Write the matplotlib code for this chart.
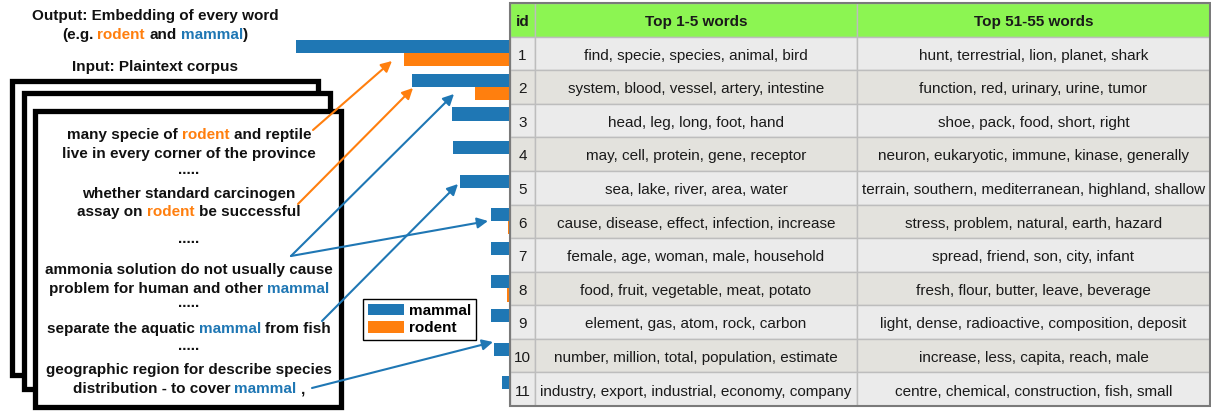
import matplotlib
matplotlib.use("Agg")
import matplotlib.pyplot as plt
from matplotlib.patches import Rectangle
from matplotlib.font_manager import FontProperties

W, H = 1211, 412

# ---- data ----
ids = list(range(1, 12))
headers = ["id", "Top 1-5 words", "Top 51-55 words"]
top_1_5 = [
    "find, specie, species, animal, bird",
    "system, blood, vessel, artery, intestine",
    "head, leg, long, foot, hand",
    "may, cell, protein, gene, receptor",
    "sea, lake, river, area, water",
    "cause, disease, effect, infection, increase",
    "female, age, woman, male, household",
    "food, fruit, vegetable, meat, potato",
    "element, gas, atom, rock, carbon",
    "number, million, total, population, estimate",
    "industry, export, industrial, economy, company",
]
top_51_55 = [
    "hunt, terrestrial, lion, planet, shark",
    "function, red, urinary, urine, tumor",
    "shoe, pack, food, short, right",
    "neuron, eukaryotic, immune, kinase, generally",
    "terrain, southern, mediterranean, highland, shallow",
    "stress, problem, natural, earth, hazard",
    "spread, friend, son, city, infant",
    "fresh, flour, butter, leave, beverage",
    "light, dense, radioactive, composition, deposit",
    "increase, less, capita, reach, male",
    "centre, chemical, construction, fish, small",
]
mammal = [0.214, 0.098, 0.058, 0.057, 0.050, 0.019, 0.019, 0.019, 0.019, 0.016, 0.008]
rodent = [0.106, 0.035, 0.0, 0.0, 0.0, 0.002, 0.0, 0.003, 0.0, 0.0, 0.0]

BLUE = "#1f77b4"
ORANGE = "#ff7f0e"
FONT = "Liberation Sans"

fig = plt.figure(figsize=(W / 100, H / 100), dpi=100)


def px_rect(x0, y0, x1, y1):
    return [x0 / W, 1 - y1 / H, (x1 - x0) / W, (y1 - y0) / H]


# ---- bars (grow leftwards out of the table) ----
axb = fig.add_axes(px_rect(290, 3, 510, 406))
axb.barh(ids, mammal, height=-0.39, align="edge", color=BLUE, label="mammal")
axb.barh(ids, rodent, height=0.39, align="edge", color=ORANGE, label="rodent")
axb.set_xlim(0.22, 0)
axb.set_ylim(11.5, -0.5)
axb.axis("off")

# ---- table ----
axt = fig.add_axes(px_rect(510, 3, 1210, 406))
axt.set_xlim(0, 700)
axt.set_ylim(11.5, -0.5)
axt.axis("off")
col_edges = [0, 25, 347, 700]
for r in range(12):
    if r == 0:
        fc = "#8cf552"
        cells = headers
        weight = "bold"
    else:
        fc = "#ebebeb" if r % 2 == 1 else "#e3e2dd"
        cells = [str(ids[r - 1]), top_1_5[r - 1], top_51_55[r - 1]]
        weight = "normal"
    for c in range(3):
        x0, x1 = col_edges[c], col_edges[c + 1]
        axt.add_patch(Rectangle((x0, r - 0.5), x1 - x0, 1, fc=fc, ec="#bdbdbd", lw=1))
        axt.text((x0 + x1) / 2, r + 0.07, cells[c], ha="center", va="center",
                 fontsize=11, fontweight=weight, family=FONT, color="#1a1a1a")
axt.add_patch(Rectangle((0, -0.5), 700, 12, fill=False, ec="#7a7a7a", lw=1.5, clip_on=False))

# ---- overlay in pixel coordinates ----
ax = fig.add_axes([0, 0, 1, 1])
ax.set_xlim(0, W)
ax.set_ylim(H, 0)
ax.axis("off")
ax.patch.set_alpha(0)

# stacked corpus pages
for (x0, y0, x1, y1) in [(12, 81, 318, 375), (24, 93, 330, 389), (35, 111, 341, 407)]:
    ax.add_patch(Rectangle((x0, y0), x1 - x0, y1 - y0, fc="white", ec="black", lw=3.8))

renderer = fig.canvas.get_renderer()
bold = FontProperties(family=FONT, weight="bold", size=11)


def tw(s):
    return renderer.get_text_width_height_descent(s, bold, ismath=False)[0]


def colored_line(cx, y, pieces):
    full = "".join(p for p, _ in pieces)
    x0 = cx - tw(full) / 2
    prefix = ""
    for p, col in pieces:
        lead = p[:len(p) - len(p.lstrip())]
        pos = prefix + lead
        start = tw(pos + "|") - tw("|") if pos else 0
        ax.text(x0 + start, y, p.strip(), ha="left", va="baseline",
                fontproperties=bold, color=col)
        prefix += p


K = "#111111"
colored_line(155, 20, [("Output: Embedding of every word", K)])
colored_line(155, 39, [("(e.g. ", K), ("rodent", ORANGE), (" and ", K), ("mammal", BLUE), (")", K)])
colored_line(155, 71, [("Input: Plaintext corpus", K)])

cx = 189
lines = [
    (139, [("many specie of ", K), ("rodent", ORANGE), (" and reptile", K)]),
    (158, [("live in every corner of the province", K)]),
    (174, [(".....", K)]),
    (198, [("whether standard carcinogen", K)]),
    (216, [("assay on ", K), ("rodent", ORANGE), (" be successful", K)]),
    (243, [(".....", K)]),
    (274, [("ammonia solution do not usually cause", K)]),
    (293, [("problem for human and other ", K), ("mammal", BLUE)]),
    (307, [(".....", K)]),
    (333, [("separate the aquatic ", K), ("mammal", BLUE), (" from fish", K)]),
    (350, [(".....", K)]),
    (374, [("geographic region for describe species", K)]),
    (393, [("distribution - to cover ", K), ("mammal", BLUE), (" ,", K)]),
]
for y, pieces in lines:
    colored_line(cx, y, pieces)

# arrows from the sentences to the bars
arrows = [
    ((313, 130), (392, 61), ORANGE),
    ((298, 204), (413, 88), ORANGE),
    ((291, 256), (454, 94), BLUE),
    ((291, 256), (488, 221), BLUE),
    ((322, 321), (458, 184), BLUE),
    ((312, 388), (493, 342), BLUE),
]
for start, tip, col in arrows:
    ax.annotate("", xy=tip, xytext=start,
                arrowprops=dict(arrowstyle="-|>", color=col, lw=1.5,
                                mutation_scale=16, shrinkA=0, shrinkB=0))

handles, labels = axb.get_legend_handles_labels()
fig.legend(handles, labels, loc="upper left",
           bbox_to_anchor=(363 / W, 1 - 299 / H), bbox_transform=fig.transFigure,
           prop=FontProperties(family=FONT, weight="bold", size=11),
           frameon=True, fancybox=False, edgecolor="black", framealpha=1,
           handlelength=2.4, handleheight=0.75, handletextpad=0.3,
           borderpad=0.3, labelspacing=0.25, borderaxespad=0)

fig.savefig("out.png", dpi=100)
